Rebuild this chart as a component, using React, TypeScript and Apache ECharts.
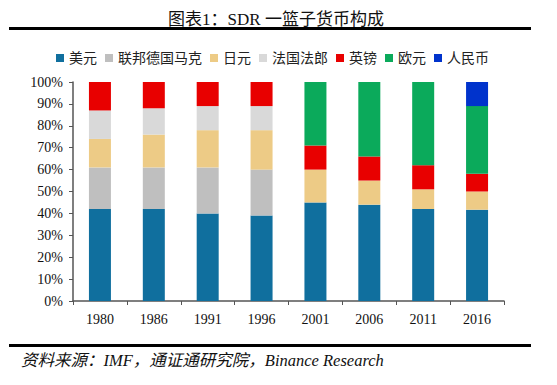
import React, { useEffect, useRef } from "react";
import * as echarts from "echarts";

const years = ["1980", "1986", "1991", "1996", "2001", "2006", "2011", "2016"];
const seriesNames = ["美元", "联邦德国马克", "日元", "法国法郎", "英镑", "欧元", "人民币"];
const usd = [42, 42, 40, 39, 45, 44, 42, 41.7];
const dem = [19, 19, 21, 21, null, null, null, null];
const jpy = [13, 15, 17, 18, 15, 11, 9, 8.3];
const frf = [13, 12, 11, 11, null, null, null, null];
const gbp = [13, 12, 11, 11, 11, 11, 11, 8.1];
const eur = [null, null, null, null, 29, 34, 38, 30.9];
const cny = [null, null, null, null, null, null, null, 11];
const colors = ["#106F9E", "#BFBFBF", "#EDCB86", "#D9D9D9", "#E80000", "#0BAA5B", "#0033CC"];
const yTicks = [0, 10, 20, 30, 40, 50, 60, 70, 80, 90, 100];

const titleText = "图表1：SDR 一篮子货币构成";
const sourceText = "资料来源：IMF，通证通研究院，Binance Research";

const SERIF = "'Liberation Serif', 'Times New Roman', 'Noto Sans CJK SC', serif";

export default function App() {
  const ref = useRef<HTMLDivElement>(null);
  useEffect(() => {
    document.body.style.margin = "0";
    const chart = echarts.init(ref.current!, null, { renderer: "svg" });
    const data = [usd, dem, jpy, frf, gbp, eur, cny];
    chart.setOption({
      animation: false,
      backgroundColor: "#ffffff",
      title: {
        text: titleText,
        left: 271,
        top: 6,
        textAlign: "center",
        textStyle: { fontFamily: SERIF, fontSize: 17, fontWeight: "normal", color: "#111" },
      },
      legend: {
        data: seriesNames,
        top: 46,
        left: 51,
        itemWidth: 8,
        itemHeight: 8,
        itemGap: 8,
        icon: "rect",
        textStyle: { fontFamily: SERIF, fontSize: 14, color: "#222" },
      },
      grid: { left: 73, right: 53, top: 82, bottom: 84, containLabel: false },
      xAxis: {
        type: "category",
        data: years,
        axisLine: { lineStyle: { color: "#555", width: 1.5 } },
        axisTick: { show: true, length: 4, lineStyle: { color: "#555" } },
        axisLabel: { fontFamily: SERIF, fontSize: 14, color: "#111", margin: 11 },
      },
      yAxis: {
        type: "value",
        min: 0,
        max: 100,
        interval: 10,
        splitLine: { show: false },
        axisLine: { show: true, lineStyle: { color: "#555", width: 1.5 } },
        axisTick: { show: true, length: 4, lineStyle: { color: "#555" } },
        axisLabel: {
          fontFamily: SERIF,
          fontSize: 14,
          color: "#111",
          margin: 10,
          formatter: (v: number) => (yTicks.includes(v) ? v + "%" : ""),
        },
      },
      series: seriesNames.map((name, i) => ({
        name,
        type: "bar",
        stack: "total",
        barWidth: 22,
        data: data[i],
        itemStyle: { color: colors[i] },
      })),
      color: colors,
      graphic: [
        { type: "rect", shape: { x: 9, y: 27, width: 522, height: 3 }, style: { fill: "#000" } },
        { type: "rect", shape: { x: 9, y: 344, width: 522, height: 3 }, style: { fill: "#000" } },
        {
          type: "text",
          x: 21,
          y: 352,
          style: {
            text: sourceText,
            fontFamily: SERIF,
            fontSize: 16.5,
            fontStyle: "italic",
            fill: "#111",
          },
        },
      ],
    });
    return () => chart.dispose();
  }, []);
  return <div ref={ref} style={{ width: 557, height: 385, position: "absolute", left: 0, top: 0 }} />;
}
